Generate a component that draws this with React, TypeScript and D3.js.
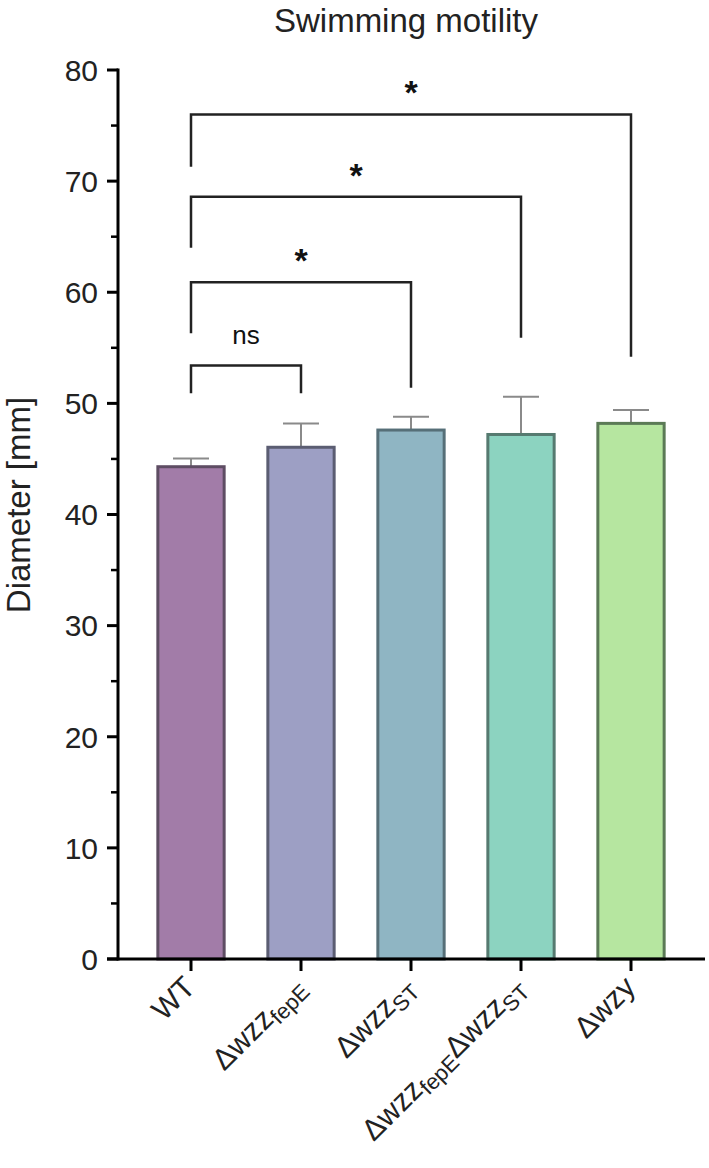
import React from "react";
import * as d3 from "d3";

const categories = ["WT", "wzzfepE", "wzzST", "double", "wzy"];
const means = [44.3, 46.05, 47.6, 47.2, 48.2];
const sds = [0.75, 2.15, 1.2, 3.4, 1.2];
const fills = ["#a27ca8", "#9d9fc4", "#8fb5c3", "#8cd3c0", "#b6e6a0"];
const strokes = ["#5e4d63", "#5b5d72", "#566f78", "#567a70", "#5b7a56"];
const yTicks = [0, 10, 20, 30, 40, 50, 60, 70, 80];
const yMinorTicks = [5, 15, 25, 35, 45, 55, 65, 75];

// label parts: [text, isSubscript]
const xLabels: [string, boolean][][] = [
  [["WT", false]],
  [["\u0394wzz", false], ["fepE", true]],
  [["\u0394wzz", false], ["ST", true]],
  [["\u0394wzz", false], ["fepE", true], ["\u0394wzz", false], ["ST", true]],
  [["\u0394wzy", false]],
];

// brackets: from category index, to category index, top, left end, right end, label
const bracketFrom = [0, 0, 0, 0];
const bracketTo = [1, 2, 3, 4];
const bracketTop = [53.4, 60.9, 68.6, 76.0];
const bracketLeftEnd = [50.9, 56.3, 64.0, 71.3];
const bracketRightEnd = [50.9, 51.4, 55.9, 54.2];
const bracketLabels = ["ns", "*", "*", "*"];

const W = 709;
const H = 1168;
const FONT = "'Liberation Sans', Arial, sans-serif";

export default function App() {
  const y = d3.scaleLinear().domain([0, 80]).range([959, 70]);
  const x = d3
    .scaleBand<string>()
    .domain(categories)
    .range([136, 686])
    .paddingInner(0.37)
    .paddingOuter(0.185);
  const bw = x.bandwidth();
  const cx = (i: number) => (x(categories[i]) as number) + bw / 2;
  const axisX = 118;
  const axisEnd = 705;

  return (
    <div style={{ position: "absolute", left: 0, top: 0 }}>
      <svg width={W} height={H} style={{ display: "block", background: "#fff" }} fontFamily={FONT}>
        {/* title */}
        <text x={(axisX - 11 + axisEnd) / 2} y={32} textAnchor="middle" fontSize={33} fill="#222">
          Swimming motility
        </text>
        {/* y title */}
        <text
          transform={`translate(30, 505) rotate(-90)`}
          textAnchor="middle"
          fontSize={33}
          fill="#222"
        >
          Diameter [mm]
        </text>

        {/* bars */}
        {categories.map((c, i) => (
          <g key={c}>
            <line
              x1={cx(i)}
              x2={cx(i)}
              y1={y(means[i])}
              y2={y(means[i] + sds[i])}
              stroke="#8a8a8a"
              strokeWidth={2}
            />
            <line
              x1={cx(i) - 18}
              x2={cx(i) + 18}
              y1={y(means[i] + sds[i])}
              y2={y(means[i] + sds[i])}
              stroke="#8a8a8a"
              strokeWidth={2}
            />
            <rect
              x={(x(c) as number) + 1.5}
              y={y(means[i])}
              width={bw - 3}
              height={y(0) - y(means[i])}
              fill={fills[i]}
              stroke={strokes[i]}
              strokeWidth={3}
            />
          </g>
        ))}

        {/* y axis */}
        <line x1={axisX} x2={axisX} y1={y(80) - 1.5} y2={y(0) + 1.5} stroke="#000" strokeWidth={3} />
        {yTicks.map((t) => (
          <g key={t}>
            <line x1={axisX - 11} x2={axisX} y1={y(t)} y2={y(t)} stroke="#000" strokeWidth={3} />
            <text
              x={98}
              y={y(t)}
              dy="0.36em"
              textAnchor="end"
              fontSize={30}
              fill="#222"
            >
              {t}
            </text>
          </g>
        ))}
        {yMinorTicks.map((t) => (
          <line key={t} x1={axisX - 7} x2={axisX} y1={y(t)} y2={y(t)} stroke="#000" strokeWidth={2.5} />
        ))}

        {/* x axis */}
        <line x1={axisX - 11} x2={axisEnd} y1={y(0)} y2={y(0)} stroke="#000" strokeWidth={3} />
        {categories.map((c, i) => (
          <line key={c} x1={cx(i)} x2={cx(i)} y1={y(0)} y2={y(0) + 12} stroke="#000" strokeWidth={3} />
        ))}
        {xLabels.map((parts, i) => (
          <text
            key={i}
            transform={`translate(${cx(i) + 6}, ${y(0) + 30}) rotate(-45)`}
            textAnchor="end"
            fontSize={30}
            fill="#222"
          >
            {parts.map(([t, sub], j) => (
              <tspan
                key={j}
                fontSize={sub ? 22 : 30}
                dy={sub ? 6 : j > 0 ? -6 : 0}
              >
                {t}
              </tspan>
            ))}
          </text>
        ))}

        {/* significance brackets */}
        {bracketFrom.map((f, k) => {
          const x1 = cx(f);
          const x2 = cx(bracketTo[k]);
          const top = y(bracketTop[k]);
          const isStar = bracketLabels[k] === "*";
          return (
            <g key={k}>
              <path
                d={`M${x1},${y(bracketLeftEnd[k])}V${top}H${x2}V${y(bracketRightEnd[k])}`}
                fill="none"
                stroke="#222"
                strokeWidth={2.5}
              />
              <text
                x={(x1 + x2) / 2}
                y={isStar ? top - 10 : top - 22}
                textAnchor="middle"
                fontSize={isStar ? 34 : 26}
                fontWeight={isStar ? "bold" : "normal"}
                fill="#111"
              >
                {bracketLabels[k]}
              </text>
            </g>
          );
        })}
      </svg>
    </div>
  );
}
